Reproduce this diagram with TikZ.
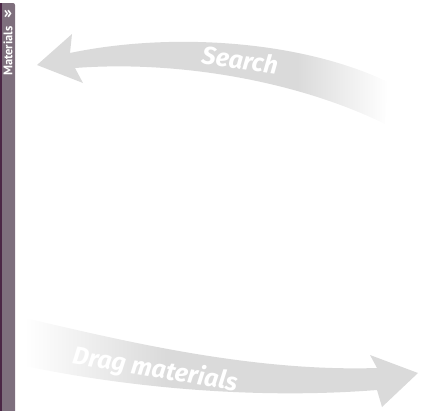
\documentclass[tikz,border=0pt]{standalone}
\usepackage{fontspec}
\newfontfamily\arrowfont{Fira Sans}
\newfontfamily\tabfont{PT Sans}
\definecolor{arrowgray}{HTML}{DADADA}
\definecolor{tabmauve}{HTML}{7E6F7D}
\definecolor{tabedge}{HTML}{4A2645}
\pgfdeclarehorizontalshading{searchfade}{100bp}{color(0bp)=(arrowgray); color(62bp)=(arrowgray); color(75bp)=(white); color(100bp)=(white)}
\pgfdeclarehorizontalshading{dragfade}{100bp}{color(0bp)=(white); color(25bp)=(white); color(43bp)=(arrowgray); color(100bp)=(arrowgray)}

\begin{document}
\begin{tikzpicture}[x=1pt,y=-1pt,
arrowtext/.style={text=white, font=\arrowfont\bfseries\itshape\fontsize{25}{25}\selectfont, inner sep=0pt},
tabtext/.style={text=white, font=\tabfont\bfseries\fontsize{12.5}{12.5}\selectfont, inner sep=0pt}]
\useasboundingbox (0,0) rectangle (431,410);

% side tab
\fill[tabmauve, rounded corners=2pt] (0,3) rectangle (15,420);
\fill[tabedge] (0,3) rectangle (1.5,420);
\node[tabtext, font=\tabfont\bfseries\fontsize{17}{17}\selectfont] (tabchev) at (8,14) {»};
\node[tabtext, rotate=90] (tabname) at (8,51) {Materials};

% search arrow
\shade[shading=searchfade] (37,65) -- (72,34) -- (70,53)
  .. controls (170,32) and (300,40) .. (388,82) -- (385,124)
  .. controls (300,82) and (180,60) .. (75,68) -- (83,83) -- cycle;
\node[arrowtext, rotate=-8] (search) at (240,60) {Search};

% drag arrow
\shade[shading=dragfade] (25,318)
  .. controls (120,340) and (250,372) .. (377,368) -- (370,355) -- (418,373) -- (382,407) -- (377,390)
  .. controls (250,400) and (120,386) .. (25,366) -- cycle;
\node[arrowtext, rotate=-9.5] (drag) at (155,370) {Drag materials};
\end{tikzpicture}
\end{document}
